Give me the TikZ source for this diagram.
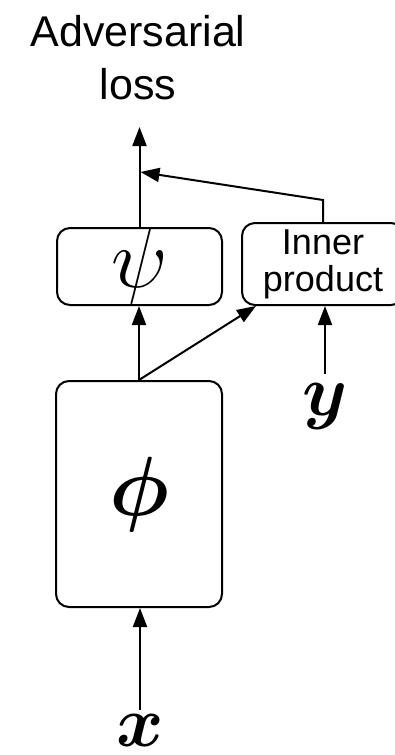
\RequirePackage{fix-cm}
\documentclass[tikz,border=0pt]{standalone}
\usepackage{amsmath, amssymb}
\usepackage{fontspec}
\newfontfamily\arialfont{Liberation Sans}
\usepackage{tikz}
\usetikzlibrary{arrows.meta}
\tikzset{
  block/.style={draw, rounded corners=13pt, line width=2pt, inner sep=0pt},
  arr/.style={-{Triangle[length=19pt, width=14pt]}, line width=2pt},
  lbl/.style={font=\arialfont\fontsize{43}{53}\selectfont, align=center, inner sep=3pt},
  mathlbl/.style={font=\fontsize{72}{72}\selectfont, inner sep=4pt},
  bigmath/.style={font=\fontsize{84}{84}\selectfont},
}

\begin{document}
\begin{tikzpicture}[x=1pt, y=-1pt]
\useasboundingbox (0,0) rectangle (395,755);

%% ─── Blocks ──────────────────────────────────────────────────────────────────
\node[block, bigmath, minimum width=166pt, minimum height=226pt] (phi) at (139,494)
  {$\boldsymbol{\phi}$};
\node[block, bigmath, minimum width=165pt, minimum height=77pt] (psi) at (139.5,266.5)
  {$\psi$};
\node[block, font=\arialfont\fontsize{36}{37}\selectfont, align=center,
  minimum width=162pt, minimum height=82pt] (inner) at (323,264) {Inner\\product};

%% ─── Labels ──────────────────────────────────────────────────────────────────
\node[lbl] (loss) at (138,58) {Adversarial\\loss};
\node[mathlbl, anchor=base] (y) at (325,415) {$\boldsymbol{y}$};
\node[mathlbl, anchor=base] (x) at (140,746) {$\boldsymbol{x}$};

%% ─── Connectors ──────────────────────────────────────────────────────────────
\coordinate (lossin) at (139.5,127);
\coordinate (bend) at (323,200);
\coordinate (merge) at (140.5,172);

\draw[arr] (x.north) -- (x.north |- phi.south);
\draw[arr] (phi.north) -- (phi.north |- psi.south);
\draw[arr] (phi.north) -- ([xshift=15pt]inner.south west);
\draw[arr] ([yshift=5pt]y.north) -- (y.north |- inner.south);
\draw[arr] (psi.north) -- (lossin);
\draw[arr] (inner.north) -- (bend) -- (merge);

\end{tikzpicture}
\end{document}
